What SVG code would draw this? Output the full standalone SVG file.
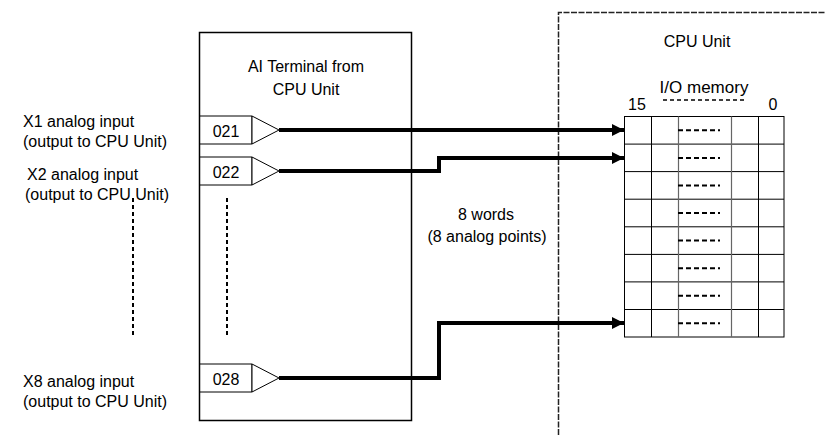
<svg xmlns="http://www.w3.org/2000/svg" width="825" height="435" viewBox="0 0 825 435">
<defs>
<style>
text{font-family:"Liberation Sans",Arial,sans-serif;font-size:16px;fill:#000}
.mid{text-anchor:middle}
.box{fill:#fff;stroke:#000;stroke-width:1.5}
.thin{fill:none;stroke:#000;stroke-width:1}
.dash{fill:none;stroke:#000;stroke-width:2;stroke-dasharray:4 3}
.wire{fill:none;stroke:#000;stroke-width:4}
.cell{fill:none;stroke:#000;stroke-width:1}
.cellg{fill:none;stroke:#666;stroke-width:1.2}
</style>
<marker id="ah" viewBox="0 0 10 10" refX="10" refY="5" markerWidth="3.4" markerHeight="3" orient="auto" markerUnits="strokeWidth">
<path d="M0,0 L10,5 L0,10 Z" fill="#000"/>
</marker>
</defs>
<rect width="825" height="435" fill="#fff"/>

<g id="cpu-region">
<path d="M558.5,435 V12.5 H825" fill="none" stroke="#222" stroke-width="1.5" stroke-dasharray="6 1.5"/>
<text class="mid" x="697" y="47">CPU Unit</text>
</g>

<g id="ai-terminal">
<rect class="box" x="199.5" y="32.5" width="212" height="388"/>
<text class="mid" x="306" y="72">AI Terminal from</text>
<text class="mid" x="306" y="95">CPU Unit</text>
</g>

<g id="term-021">
<path class="thin" d="M199.5,116 H252 V144 H199.5"/>
<polygon points="252,116 279,130 252,144" fill="#fff" stroke="#000" stroke-width="1"/>
<text class="mid" x="226" y="137">021</text>
</g>
<g id="term-022">
<path class="thin" d="M199.5,157 H252 V185 H199.5"/>
<polygon points="252,157 279,171 252,185" fill="#fff" stroke="#000" stroke-width="1"/>
<text class="mid" x="226" y="178">022</text>
</g>
<g id="term-028">
<path class="thin" d="M199.5,364 H252 V392 H199.5"/>
<polygon points="252,364 279,378 252,392" fill="#fff" stroke="#000" stroke-width="1"/>
<text class="mid" x="226" y="385">028</text>
</g>

<g id="label-x1">
<text x="23" y="127">X1 analog input</text>
<text x="23" y="147">(output to CPU Unit)</text>
</g>
<g id="label-x2">
<text x="27" y="180">X2 analog input</text>
<text x="25" y="200">(output to CPU Unit)</text>
</g>
<g id="label-x8">
<text x="23" y="387">X8 analog input</text>
<text x="23" y="407">(output to CPU Unit)</text>
</g>

<g id="ellipsis">
<line class="dash" x1="133" y1="198" x2="133" y2="338"/>
<line class="dash" x1="227" y1="198" x2="227" y2="338"/>
</g>

<g id="words-label">
<text class="mid" x="486" y="220">8 words</text>
<text class="mid" x="487" y="242">(8 analog points)</text>
</g>

<g id="io-memory">
<text class="mid" x="704" y="93" style="font-size:17px">I/O memory</text>
<text x="628" y="110">15</text>
<text class="mid" x="773" y="110">0</text>
<line x1="663" y1="100" x2="746" y2="100" stroke="#000" stroke-width="1.5" stroke-dasharray="4 3"/>
<rect class="cell" x="624.5" y="116.5" width="159.5" height="220.5"/>
<path class="cell" d="M624.5,144.1 H784 M624.5,171.6 H784 M624.5,199.2 H784 M624.5,226.8 H784 M624.5,254.4 H784 M624.5,281.9 H784 M624.5,309.5 H784"/>
<path class="cell" d="M651.5,116.5 V337 M758.5,116.5 V337"/>
<path class="cellg" d="M678.5,116.5 V337 M731.5,116.5 V337"/>
<path fill="none" stroke="#000" stroke-width="2" stroke-dasharray="5 3" d="M678,130.3 H720 M678,157.9 H720 M678,185.4 H720 M678,213 H720 M678,240.6 H720 M678,268.2 H720 M678,295.8 H720 M678,323.3 H720"/>
</g>

<g id="connectors">
<path class="wire" d="M279,130 H624" marker-end="url(#ah)"/>
<path class="wire" d="M279,171 H439 V158 H624" marker-end="url(#ah)"/>
<path class="wire" d="M279,378 H439 V323 H624" marker-end="url(#ah)"/>
</g>
</svg>
